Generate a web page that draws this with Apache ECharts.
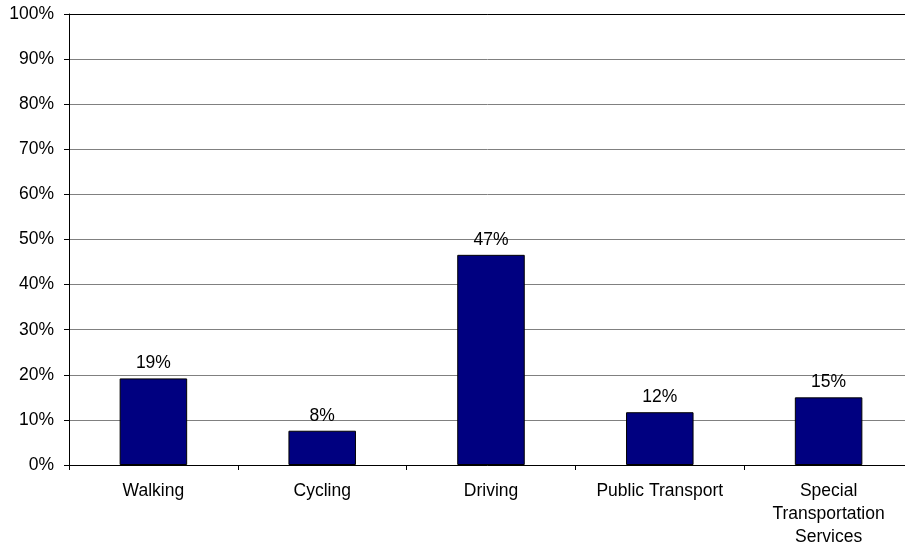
<!DOCTYPE html>
<html><head><meta charset="utf-8">
<script src="https://cdn.jsdelivr.net/npm/echarts@6/dist/echarts.min.js"></script>
<style>html,body{margin:0;padding:0;background:#fff}#c{width:905px;height:545px}</style>
</head><body><div id="c"></div>
<script>
const categories = ["Walking", "Cycling", "Driving", "Public Transport", "Special\nTransportation\nServices"];
const shares = [19.2, 7.6, 46.6, 11.7, 15.0];
const yTicks = [0, 10, 20, 30, 40, 50, 60, 70, 80, 90, 100];

const chart = echarts.init(document.getElementById('c'), null, {renderer: 'canvas'});
const font = 'Liberation Sans, Arial, sans-serif';
const fs = 17.5;
chart.setOption({
  animation: false,
  grid: {left: 69, width: 844, top: 14, height: 451, containLabel: false, outerBoundsMode: 'none'},
  xAxis: [{
    type: 'category', data: categories,
    axisLine: {lineStyle: {color: '#000', width: 1}},
    axisTick: {show: true, length: 5, lineStyle: {color: '#000'}},
    axisLabel: {color: '#000', fontFamily: font, fontSize: fs, margin: 15, lineHeight: 23, interval: 0}
  }, {
    type: 'category', data: categories, position: 'top',
    axisLine: {show: true, lineStyle: {color: '#000', width: 1}},
    axisTick: {show: false}, axisLabel: {show: false}
  }],
  yAxis: {
    type: 'value', min: yTicks[0], max: yTicks[yTicks.length - 1], interval: 10,
    axisLine: {show: true, lineStyle: {color: '#000', width: 1}},
    axisTick: {show: true, length: 5, lineStyle: {color: '#000'}},
    axisLabel: {color: '#000', fontFamily: font, fontSize: fs, margin: 15, formatter: v => v + '%'},
    splitLine: {show: true, lineStyle: {color: '#808080', width: 1}}
  },
  series: [{
    type: 'bar', data: shares, barWidth: '40%',
    itemStyle: {color: '#000080', borderColor: '#000', borderWidth: 1},
    label: {show: true, position: 'top', distance: 6, color: '#000', fontFamily: font, fontSize: fs,
      formatter: p => Math.round(p.value) + '%'}
  }]
});
</script></body></html>
